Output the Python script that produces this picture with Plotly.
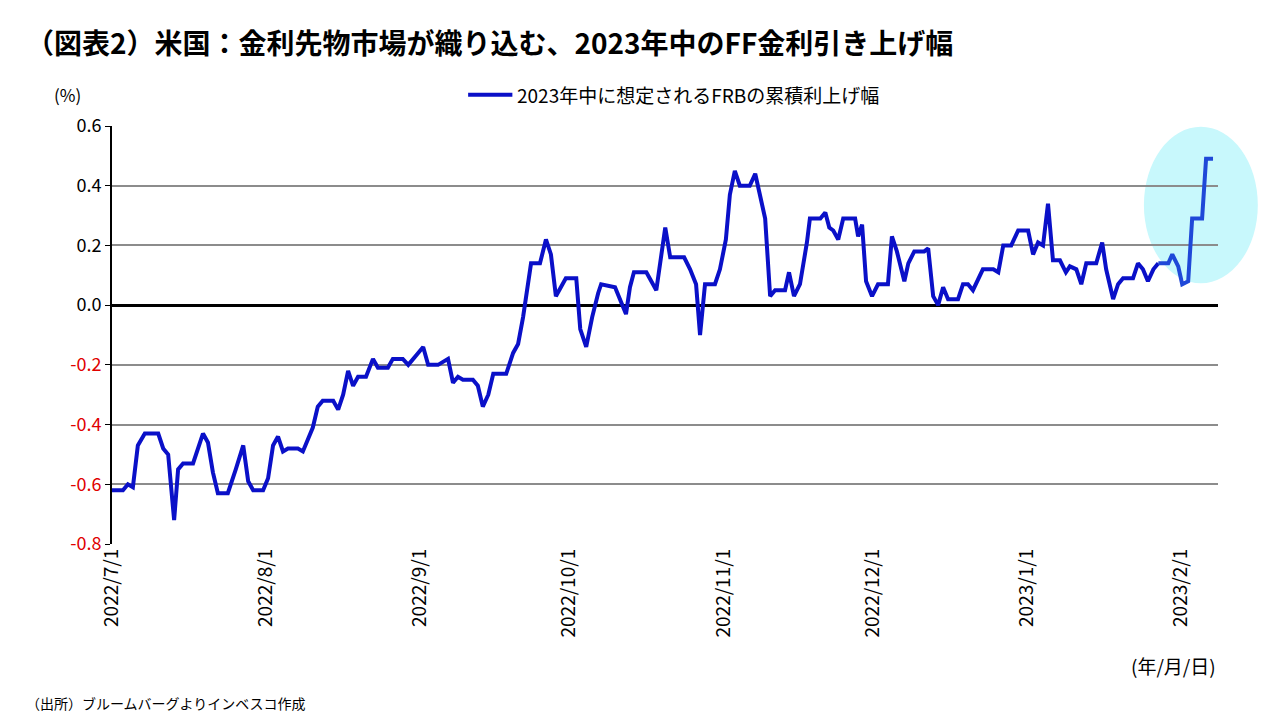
import plotly.graph_objects as go
import datetime as dt

start = dt.datetime(2022, 7, 1)
days = [0,2.2,3.2,4.2,5.2,6.6,9.3,10.3,11.3,12.5,13.3,14.3,16.3,18.3,19.3,20.3,21.3,23.3,24.9,26.4,27.4,28.4,30.4,31.4,32.4,33.4,34.4,35.4,37.4,38.4,40.4,41.4,42.4,44.5,45.5,46.5,47.5,48.5,49.5,51.1,52.5,53.5,55.5,56.5,58.5,59.6,61.6,62.6,63.6,65.6,67.6,68.6,69.6,70.6,72.6,73.6,74.6,75.7,76.7,79.3,80.7,81.7,82.7,83.7,84.3,86.1,87.3,88.3,89.3,90.3,91.3,93.4,94.2,95.4,96.6,97.8,98.4,101.2,102.2,103.4,104.2,105.0,107.5,108.7,109.5,111.3,112.3,115.1,116.3,117.5,118.3,119.3,121.3,122.3,123.5,124.3,125.3,126.3,128.3,129.4,130.4,131.4,132.4,133.4,135.4,136.2,137.2,138.4,139.8,140.4,142.5,143.5,144.3,145.1,146.1,147.1,149.5,150.1,150.9,151.7,152.9,154.1,156.1,156.9,157.9,159.4,160.2,161.4,163.4,164.2,165.2,166.2,167.2,168.2,170.2,171.2,172.2,173.2,175.2,177.3,178.3,179.3,180.9,182.3,184.3,185.3,186.3,187.3,188.3,189.3,190.7,191.9,192.7,194.0,195.0,196.0,198.0,199.2,200.0,201.4,202.4,203.4,205.4,206.4,207.4,208.4,209.5,210.5,212.5,213.3,214.5,215.3,216.5,217.3,219.3,220.1,221.5]
values = [-0.62,-0.62,-0.60,-0.61,-0.47,-0.43,-0.43,-0.48,-0.50,-0.72,-0.55,-0.53,-0.53,-0.43,-0.46,-0.56,-0.63,-0.63,-0.55,-0.47,-0.59,-0.62,-0.62,-0.58,-0.47,-0.44,-0.49,-0.48,-0.48,-0.49,-0.41,-0.34,-0.32,-0.32,-0.35,-0.30,-0.22,-0.27,-0.24,-0.24,-0.18,-0.21,-0.21,-0.18,-0.18,-0.20,-0.16,-0.14,-0.20,-0.20,-0.18,-0.26,-0.24,-0.25,-0.25,-0.27,-0.34,-0.30,-0.23,-0.23,-0.16,-0.13,-0.04,0.07,0.14,0.14,0.22,0.17,0.03,0.06,0.09,0.09,-0.08,-0.14,-0.04,0.04,0.07,0.06,0.02,-0.03,0.06,0.11,0.11,0.07,0.05,0.26,0.16,0.16,0.12,0.07,-0.10,0.07,0.07,0.12,0.22,0.37,0.45,0.40,0.40,0.44,0.36,0.29,0.03,0.05,0.05,0.11,0.03,0.07,0.21,0.29,0.29,0.31,0.26,0.25,0.22,0.29,0.29,0.23,0.27,0.08,0.03,0.07,0.07,0.23,0.18,0.08,0.14,0.18,0.18,0.19,0.03,0.00,0.06,0.02,0.02,0.07,0.07,0.05,0.12,0.12,0.11,0.20,0.20,0.25,0.25,0.17,0.21,0.20,0.34,0.15,0.15,0.11,0.13,0.12,0.07,0.14,0.14,0.21,0.12,0.02,0.07,0.09,0.09,0.14,0.12,0.08,0.12,0.14,0.14,0.17,0.13,0.07,0.08,0.29,0.29,0.49,0.49]
highlight_from = 210.5
tick_dates = ["2022-07-01","2022-08-01","2022-09-01","2022-10-01","2022-11-01","2022-12-01","2023-01-01","2023-02-01"]
tick_labels = ["2022/7/1","2022/8/1","2022/9/1","2022/10/1","2022/11/1","2022/12/1","2023/1/1","2023/2/1"]
y_ticks = [0.6,0.4,0.2,0.0,-0.2,-0.4,-0.6,-0.8]
series_name = "2023年中に想定されるFRBの累積利上げ幅"

dates = [start + dt.timedelta(days=d) for d in days]
FONT = "Noto Sans CJK JP"
fig = go.Figure()
i0 = [i for i, d in enumerate(days) if d >= highlight_from][0]
fig.add_trace(go.Scatter(x=dates[:i0+1], y=values[:i0+1], mode="lines",
                         line=dict(color="#0a10c8", width=4), name=series_name))
fig.add_trace(go.Scatter(x=dates[i0:], y=values[i0:], mode="lines",
                         line=dict(color="#1f48d8", width=4), showlegend=False))

ytext = [f"<span style='color:#e00000'>{v:.1f}</span>" if v < 0 else f"{v:.1f}" for v in y_ticks]
fig.update_layout(
    width=1280, height=720, paper_bgcolor="white", plot_bgcolor="white",
    margin=dict(l=104, r=70, t=118, b=184, autoexpand=False),
    font=dict(family=FONT, size=17, color="black"),
    showlegend=False,
    xaxis=dict(type="date", range=[start, start + dt.timedelta(days=222.5)], automargin=False,
               tickvals=tick_dates, ticktext=tick_labels, tickangle=-90,
               showgrid=False, showline=False, zeroline=False, ticks="",
               tickfont=dict(size=19)),
    yaxis=dict(range=[-0.8, 0.6], tickvals=y_ticks, ticktext=ytext, automargin=False,
               showgrid=True, gridcolor="#8c8c8c", gridwidth=1.5,
               zeroline=True, zerolinecolor="black", zerolinewidth=2.5,
               showline=True, linecolor="black", linewidth=2, ticks="outside",
               ticklen=5, tickcolor="black", tickfont=dict(size=18)),
    shapes=[dict(type="circle", xref="paper", yref="paper", x0=0.933, x1=1.036,
                 y0=0.624, y1=0.998, fillcolor="#c8f8fc", line=dict(width=0), layer="below"),
            dict(type="line", xref="paper", yref="paper", x0=0.322, x1=0.362, y0=1.075, y1=1.075,
                 line=dict(color="#0a10c8", width=4))],
    annotations=[
        dict(text="<b>（図表2）米国：金利先物市場が織り込む、2023年中のFF金利引き上げ幅</b>",
             xref="paper", yref="paper", x=-0.08, y=1.2, xanchor="left", yanchor="middle",
             showarrow=False, font=dict(size=28, family=FONT)),
        dict(text=series_name, xref="paper", yref="paper", x=0.364, y=1.075, xanchor="left",
             yanchor="middle", showarrow=False, font=dict(size=19)),
        dict(text="(%)", xref="paper", yref="paper", x=-0.04, y=1.075, xanchor="center",
             yanchor="middle", showarrow=False, font=dict(size=17)),
        dict(text="(年/月/日)", xref="paper", yref="paper", x=0.96, y=-0.29, xanchor="center",
             yanchor="middle", showarrow=False, font=dict(size=19)),
        dict(text="（出所）ブルームバーグよりインベスコ作成", xref="paper", yref="paper", x=-0.08,
             y=-0.38, xanchor="left", yanchor="middle", showarrow=False, font=dict(size=14)),
    ],
)
fig.write_html("out.html")
